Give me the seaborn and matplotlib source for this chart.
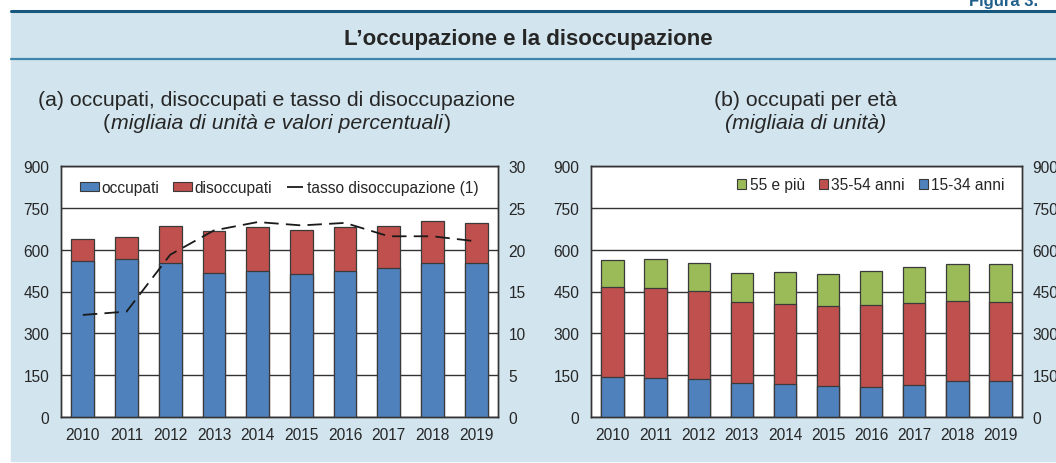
##### L'occupazione e la disoccupazione (Figura 3)

import numpy as np
import pandas as pd
import matplotlib
matplotlib.use('Agg')
import matplotlib.pyplot as plt
from matplotlib.patches import Rectangle, Patch
from matplotlib.lines import Line2D
import seaborn as sns

##### データ
anni = ['2010', '2011', '2012', '2013', '2014', '2015', '2016', '2017', '2018', '2019']
occupati     = [560, 565, 553, 518, 523, 514, 523, 536, 551, 551]
forze_lavoro = [638, 645, 686, 667, 682, 670, 681, 684, 703, 697]   # occupati + disoccupati
tasso_disocc = [12.2, 12.6, 19.4, 22.3, 23.3, 22.9, 23.2, 21.6, 21.6, 21.0]

eta_15_34  = [143, 141, 137, 121, 117, 110, 109, 115, 128, 128]
eta_15_54  = [465, 463, 451, 413, 406, 397, 402, 409, 417, 413]   # 15-34 + 35-54
eta_totale = [562, 565, 551, 518, 521, 513, 523, 537, 550, 550]   # + 55 e più

##### 色
BLU   = '#4f81bd'
ROSSO = '#c0504d'
VERDE = '#9bbb59'
SFONDO = '#d2e4ee'
EDGE   = '#3a3a3a'
TESTO  = '#262626'

sns.set_theme(style='white')
plt.rcParams['font.family'] = ['Liberation Sans', 'DejaVu Sans']

W, H = 1056, 464
fig = plt.figure(figsize=(W / 100, H / 100), dpi=100)

def fy(py):
    return 1 - py / H

##### 背景パネルと罫線
fig.add_artist(Rectangle((11 / W, fy(462)), 1 - 11 / W, fy(12) - fy(462),
                         transform=fig.transFigure, color=SFONDO, zorder=-10))
fig.add_artist(Line2D([11 / W, 1], [fy(12.3), fy(12.3)], color='#17587f', lw=2.2, zorder=-5))
fig.add_artist(Line2D([11 / W, 1], [fy(60), fy(60)], color='#3f86aa', lw=1.6, zorder=-5))

fig.text(969 / W, fy(6), 'Figura 3.', ha='left', va='baseline', fontsize=12,
         fontweight='bold', color='#1f5f8b')
fig.text(528 / W, fy(39.5), 'L\u2019occupazione e la disoccupazione', ha='center', va='center',
         fontsize=16, fontweight='bold', color=TESTO)

##### サブタイトル
SUB = 15.3
fig.text(277 / W, fy(101), '(a) occupati, disoccupati e tasso di disoccupazione',
         ha='center', va='center', fontsize=SUB, color=TESTO)
t_it = fig.text(277 / W, fy(124), 'migliaia di unità e valori percentuali',
                ha='center', va='center', fontsize=SUB, color=TESTO, style='italic')
fig.text(806 / W, fy(101), '(b) occupati per età', ha='center', va='center',
         fontsize=SUB, color=TESTO)
fig.text(806 / W, fy(124), '(migliaia di unità)', ha='center', va='center',
         fontsize=SUB, color=TESTO, style='italic')

# 括弧は立体
fig.canvas.draw()
bb = t_it.get_window_extent()
fig.text(bb.x0 / W - 0.001, fy(124), '(', ha='right', va='center', fontsize=SUB, color=TESTO)
fig.text(bb.x1 / W + 0.001, fy(124), ')', ha='left', va='center', fontsize=SUB, color=TESTO)

ax1 = fig.add_axes([61 / W, fy(418), (498 - 61) / W, (418 - 167) / H])
ax2 = fig.add_axes([591 / W, fy(418), (1022 - 591) / W, (418 - 167) / H])

df_a = pd.DataFrame({'anno': anni, 'occupati': occupati, 'totale': forze_lavoro,
                     'tasso': tasso_disocc})
df_b = pd.DataFrame({'anno': anni, 'g1': eta_15_34, 'g2': eta_15_54, 'g3': eta_totale})

bar_kw = dict(width=0.52, edgecolor=EDGE, linewidth=0.9, saturation=1, zorder=3)

##### (a) 積み上げ棒 + 失業率
sns.barplot(data=df_a, x='anno', y='totale', color=ROSSO, ax=ax1, **bar_kw)
sns.barplot(data=df_a, x='anno', y='occupati', color=BLU, ax=ax1, **bar_kw)

ax1r = ax1.twinx()
sns.lineplot(x=np.arange(len(anni)), y=df_a['tasso'], ax=ax1r, color='#1a1a1a',
             lw=1.3, dashes=(8, 4), zorder=5)
ax1r.set_ylim(0, 30)
ax1r.set_yticks(range(0, 31, 5))

##### (b) 年齢別積み上げ棒
sns.barplot(data=df_b, x='anno', y='g3', color=VERDE, ax=ax2, **bar_kw)
sns.barplot(data=df_b, x='anno', y='g2', color=ROSSO, ax=ax2, **bar_kw)
sns.barplot(data=df_b, x='anno', y='g1', color=BLU, ax=ax2, **bar_kw)

ax2r = ax2.twinx()
ax2r.set_ylim(0, 900)
ax2r.set_yticks(range(0, 901, 150))

for ax in (ax1, ax2):
    ax.set_xlim(-0.5, 9.5)
    ax.set_ylim(0, 900)
    ax.set_yticks(range(0, 901, 150))
    ax.set_xlabel('')
    ax.set_ylabel('')
    ax.set_facecolor('white')
    ax.yaxis.grid(True, color='#333333', lw=1.0, zorder=1)
    ax.set_axisbelow(True)
    ax.tick_params(axis='y', length=0, pad=8.5, labelsize=11.2, labelcolor=TESTO)
    ax.tick_params(axis='x', length=0, pad=7, labelsize=11.2, labelcolor=TESTO)
    for s in ax.spines.values():
        s.set_color('#333333')
        s.set_linewidth(1.0)

for axr in (ax1r, ax2r):
    axr.set_ylabel('')
    axr.tick_params(axis='y', length=0, pad=7.5, labelsize=11.2, labelcolor=TESTO)
    for s in axr.spines.values():
        s.set_color('#333333')
        s.set_linewidth(1.0)

##### 凡例
h_a = [Patch(facecolor=BLU, edgecolor=EDGE, lw=0.8),
       Patch(facecolor=ROSSO, edgecolor=EDGE, lw=0.8),
       Line2D([], [], color='#1a1a1a', marker='_', markersize=11, markeredgewidth=1.3,
              linestyle='None')]
ax1r.legend(h_a, ['occupati', 'disoccupati', 'tasso disoccupazione (1)'],
            loc='upper center', bbox_to_anchor=(0.5, 1.0), ncol=3, frameon=False,
            fontsize=11.2, handlelength=1.25, handleheight=0.6, handletextpad=0.15,
            columnspacing=0.85, labelcolor=TESTO)

h_b = [Patch(facecolor=VERDE, edgecolor=EDGE, lw=0.8),
       Patch(facecolor=ROSSO, edgecolor=EDGE, lw=0.8),
       Patch(facecolor=BLU, edgecolor=EDGE, lw=0.8)]
ax2r.legend(h_b, ['55 e più', '35-54 anni', '15-34 anni'],
            loc='upper right', bbox_to_anchor=(0.993, 1.01), ncol=3, frameon=False,
            fontsize=11.2, handlelength=0.55, handleheight=0.55, handletextpad=0.25,
            columnspacing=0.9, labelcolor=TESTO)

fig.savefig('out.png', dpi=100, facecolor='white')
